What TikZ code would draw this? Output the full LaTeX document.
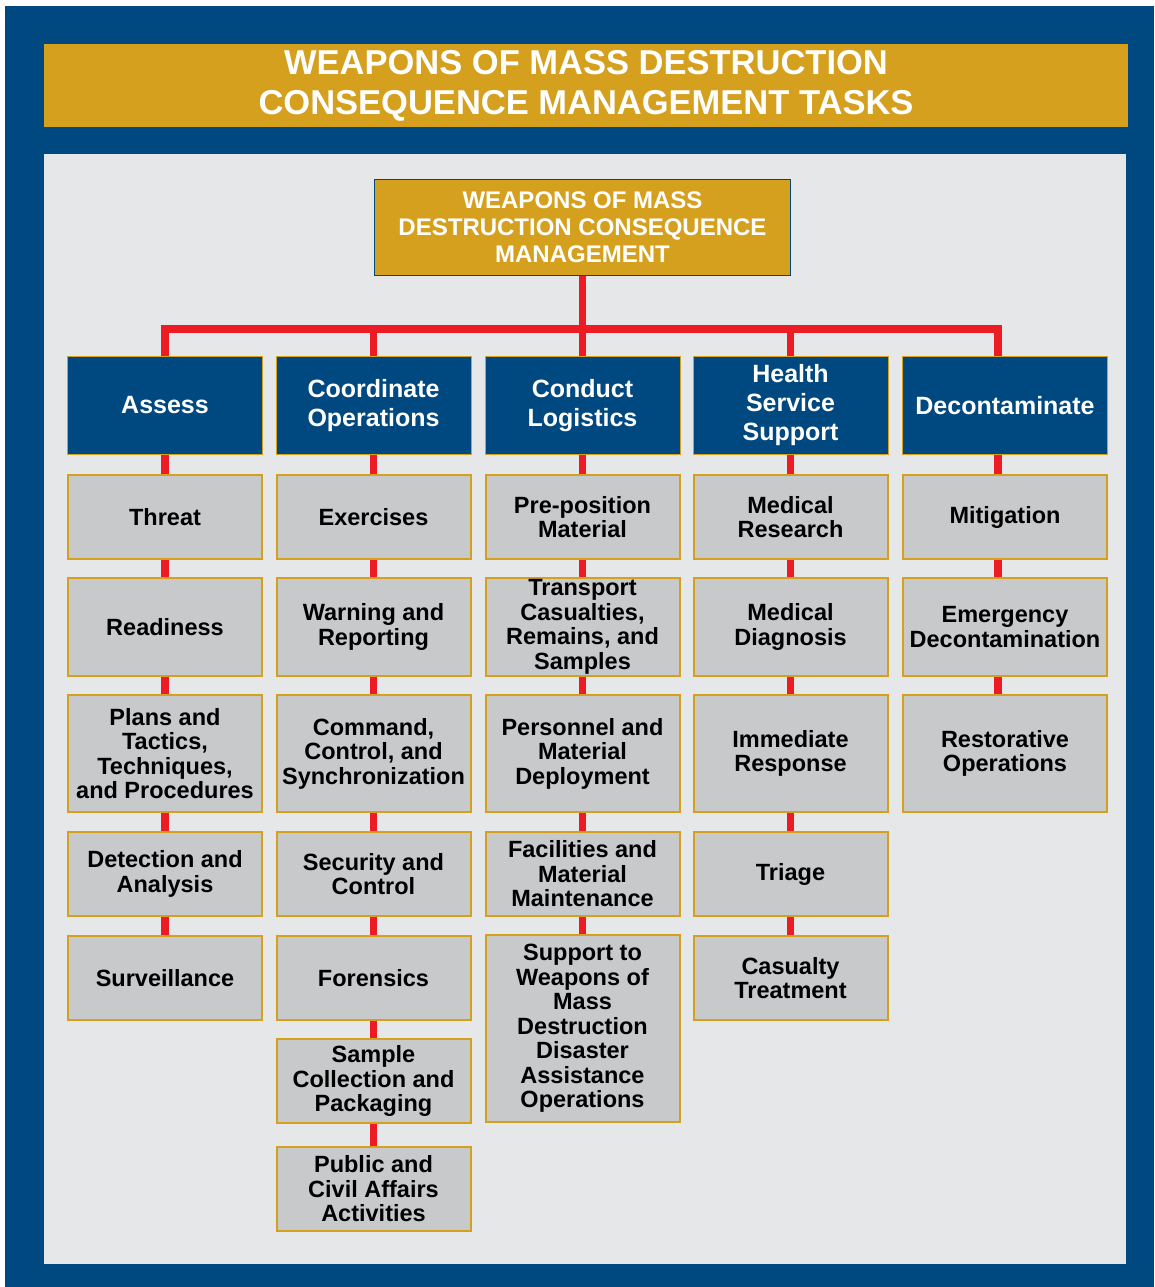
\documentclass[tikz,border=0pt]{standalone}
\usepackage{fontspec}
\setmainfont{Liberation Sans}
\usetikzlibrary{positioning}
\definecolor{navyBlue}{HTML}{004880}
\definecolor{gold}{HTML}{D4A01E}
\definecolor{panelGray}{HTML}{E6E7E8}
\definecolor{boxGray}{HTML}{C8C9CB}
\definecolor{treeRed}{HTML}{ED1C24}
\tikzset{
  titleBand/.style={
    rectangle,
    fill=gold,
    text=white,
    minimum width=1084pt,
    minimum height=83pt,
    align=center,
    inner sep=0pt,
    font=\fontsize{34.5}{40}\selectfont\bfseries
  },
  rootBox/.style={
    rectangle,
    draw=navyBlue,
    line width=1pt,
    fill=gold,
    text=white,
    minimum width=416pt,
    minimum height=96pt,
    align=center,
    inner sep=1pt,
    font=\fontsize{24}{27}\selectfont\bfseries
  },
  taskHeader/.style={
    rectangle,
    draw=gold,
    line width=1pt,
    fill=navyBlue,
    text=white,
    minimum width=195pt,
    minimum height=98pt,
    align=center,
    inner sep=1pt,
    font=\fontsize{25}{29}\selectfont\bfseries
  },
  taskBox/.style={
    rectangle,
    draw=gold,
    line width=2pt,
    fill=boxGray,
    text=black,
    minimum width=194pt,
    align=center,
    inner sep=1pt,
    font=\fontsize{23.5}{24.5}\selectfont\bfseries
  },
  rowS/.style={taskBox, minimum height=84pt},
  rowM/.style={taskBox, minimum height=98pt},
  rowL/.style={taskBox, minimum height=117pt},
  wideCol/.style={minimum width=205pt},
  wideBox/.style={minimum width=204pt},
  treeLine/.style={
    draw=treeRed,
    line width=7.5pt
  }
}

\begin{document}
\begin{tikzpicture}[x=1pt, y=-1pt, node distance=17pt]
        % frame and panel
        \fill[white] (0,0) rectangle (1154,1287);
        \fill[navyBlue] (5,6) rectangle (1154,1287);
        \fill[panelGray] (44,154) rectangle (1126,1264);
        \node[titleBand] (title) at (586,85.5) {WEAPONS OF MASS DESTRUCTION\\CONSEQUENCE MANAGEMENT TASKS};

        \node[rootBox] (root) at (582.5,227.5) {WEAPONS OF MASS\\DESTRUCTION CONSEQUENCE\\MANAGEMENT};
        \coordinate (bar) at (582,329);

        % task headers
        \node[taskHeader] (assess) at (165,405.5) {Assess};
        \node[taskHeader] (coord) at (373.5,405.5) {Coordinate\\Operations};
        \node[taskHeader] (logist) at (582.5,405.5) {Conduct\\Logistics};
        \node[taskHeader] (health) at (790.5,405.5) {Health\\Service\\Support};
        \node[taskHeader, wideCol] (decon) at (1005,405.5) {Decontaminate};

        % assess
        \node[rowS, below=19pt of assess] (threat) {Threat};
        \node[rowM, below=of threat] (ready) {Readiness};
        \node[rowL, below=of ready] (plans) {Plans and\\Tactics,\\Techniques,\\and Procedures};
        \node[rowS, below=18pt of plans] (detect) {Detection and\\Analysis};
        \node[rowS, below=18pt of detect] (surveil) {Surveillance};

        % coordinate operations
        \node[rowS, below=19pt of coord] (exerc) {Exercises};
        \node[rowM, below=of exerc] (warn) {Warning and\\Reporting};
        \node[rowL, below=of warn] (command) {Command,\\Control, and\\Synchronization};
        \node[rowS, below=18pt of command] (secur) {Security and\\Control};
        \node[rowS, below=18pt of secur] (forens) {Forensics};
        \node[rowS, below=of forens] (sample) {Sample\\Collection and\\Packaging};
        \node[rowS, below=22pt of sample] (public) {Public and\\Civil Affairs\\Activities};

        % conduct logistics
        \node[rowS, below=19pt of logist] (prepos) {Pre-position\\Material};
        \node[rowM, below=of prepos] (transp) {Transport\\Casualties,\\Remains, and\\Samples};
        \node[rowL, below=of transp] (person) {Personnel and\\Material\\Deployment};
        \node[rowS, below=18pt of person] (facil) {Facilities and\\Material\\Maintenance};
        \node[taskBox, minimum height=187pt, below=of facil] (support) {Support to\\Weapons of\\Mass\\Destruction\\Disaster\\Assistance\\Operations};

        % health service support
        \node[rowS, below=19pt of health] (medres) {Medical\\Research};
        \node[rowM, below=of medres] (meddiag) {Medical\\Diagnosis};
        \node[rowL, below=of meddiag] (immed) {Immediate\\Response};
        \node[rowS, below=18pt of immed] (triage) {Triage};
        \node[rowS, below=18pt of triage] (casualty) {Casualty\\Treatment};

        % decontaminate
        \node[rowS, wideBox, below=19pt of decon] (mitig) {Mitigation};
        \node[rowM, wideBox, below=of mitig] (emerg) {Emergency\\Decontamination};
        \node[rowL, wideBox, below=of emerg] (restor) {Restorative\\Operations};

        % tree lines
        \draw[treeLine] (root.south) -- (root.south |- bar);
        \draw[treeLine] (assess.north) |- (bar) -| ([xshift=-7pt]decon.north);
        \foreach \h in {coord,logist,health}
          \draw[treeLine] (\h.north |- bar) -- (\h.north);

        \foreach \a/\b in {assess/threat, threat/ready, ready/plans, plans/detect, detect/surveil,
                           coord/exerc, exerc/warn, warn/command, command/secur, secur/forens, forens/sample, sample/public,
                           logist/prepos, prepos/transp, transp/person, person/facil, facil/support,
                           health/medres, medres/meddiag, meddiag/immed, immed/triage, triage/casualty}
          \draw[treeLine] (\a.south) -- (\b.north);
        \foreach \a/\b in {decon/mitig, mitig/emerg, emerg/restor}
          \draw[treeLine] ([xshift=-7pt]\a.south) -- ([xshift=-7pt]\b.north);
    \end{tikzpicture}
\end{document}
